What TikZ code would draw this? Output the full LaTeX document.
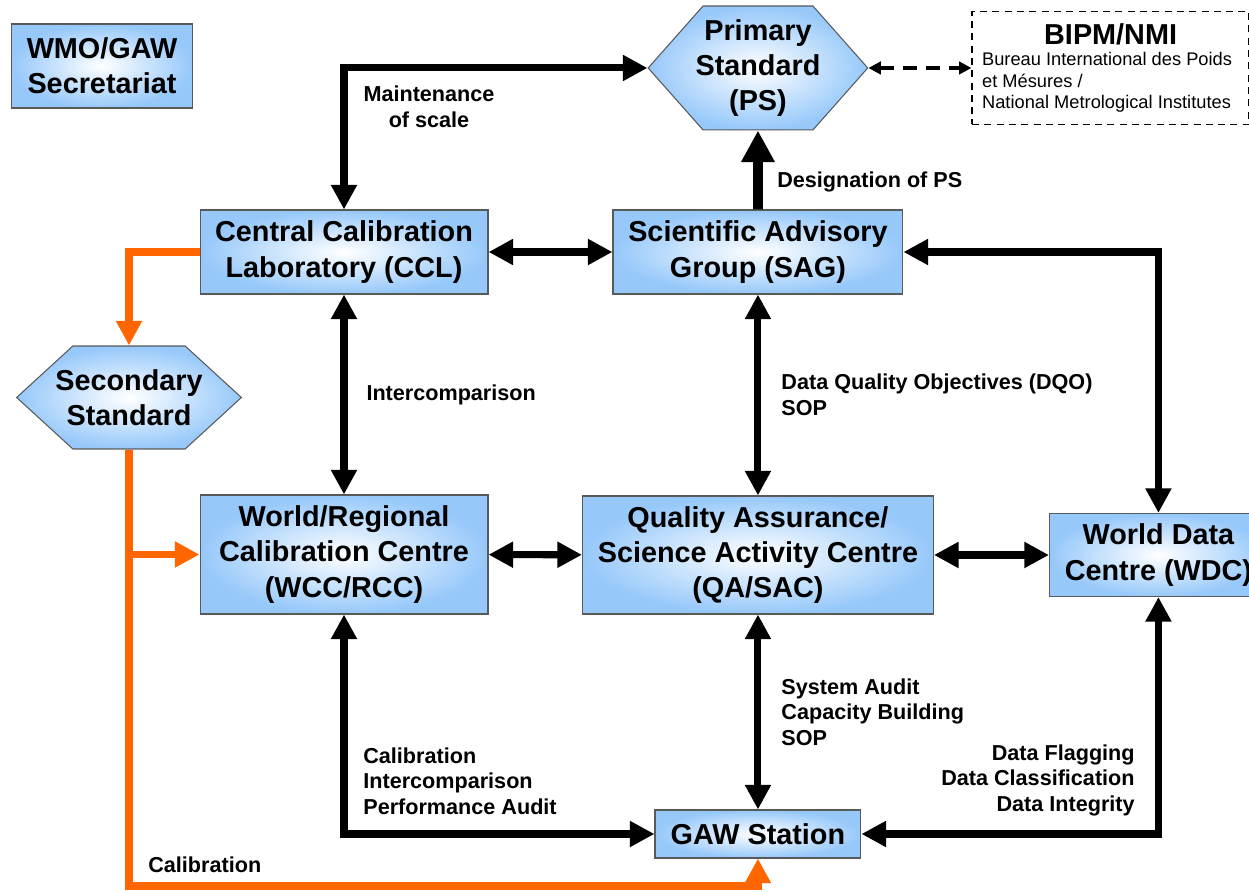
\documentclass[tikz,border=0pt]{standalone}
\usepackage{fontspec}
\setmainfont{Liberation Sans}
\usepackage{xcolor}
\usetikzlibrary{shapes,shapes.symbols,shapes.geometric,arrows.meta,positioning,calc}

\definecolor{boxblue}{RGB}{150,200,250}
\definecolor{calorange}{RGB}{255,102,0}

\begin{document}
\begin{tikzpicture}[
    x=0.02cm, y=-0.02cm,
    font=\bfseries\fontsize{16.4}{20}\selectfont,
    box/.style={rectangle, draw=black!65, line width=0.6pt, inner color=white, outer color=boxblue, align=center, inner sep=0pt},
    stdhex/.style={box, signal, signal to=west and east, minimum width=0pt},
    lbl/.style={font=\bfseries\fontsize{12.3}{14.5}\selectfont, inner sep=0pt},
    link/.style={line width=4pt, {Triangle[length=14pt,width=14pt]}-{Triangle[length=14pt,width=14pt]}},
    onelink/.style={line width=4pt, -{Triangle[length=14pt,width=14pt]}},
    callink/.style={calorange, line width=4.2pt, -{Triangle[length=14pt,width=14pt]}},
    dashlink/.style={line width=2.2pt, dash pattern=on 8pt off 5pt, {Triangle[length=7pt,width=7pt]}-{Triangle[length=7pt,width=7pt]}}
]
    \useasboundingbox (0,0) rectangle (1249,892);

    \node[box, minimum width=3.62cm, minimum height=1.68cm] (wmo) at (102,66) {WMO/GAW\\Secretariat};

    \node[box, minimum width=5.76cm, minimum height=1.68cm] (ccl) at (344,252) {Central Calibration\\Laboratory (CCL)};
    \node[box, minimum width=5.8cm, minimum height=1.68cm, right=2.48cm of ccl] (sag) {Scientific Advisory\\Group (SAG)};

    \node[stdhex, inner xsep=-0.15cm, minimum height=2.48cm, signal pointer angle=97, above=1.58cm of sag] (ps) {Primary\\Standard\\(PS)};
    \node[draw, line width=0.8pt, dash pattern=on 4pt off 3pt, minimum width=5.54cm, minimum height=2.26cm,
          font=\mdseries\fontsize{10.4}{12}\selectfont, align=left, inner xsep=0.2cm, inner ysep=0pt, right=2.06cm of ps] (bipm)
          {\makebox[5.14cm]{\bfseries\fontsize{16.4}{20}\selectfont BIPM/NMI}\\ Bureau International des Poids\\ et Mésures /\\ National Metrological Institutes};

    \node[stdhex, inner xsep=-0.35cm, minimum height=2.06cm, signal pointer angle=85] (sec) at (129,397.5) {Secondary\\Standard};

    \node[box, minimum width=5.76cm, minimum height=2.38cm, below=4cm of ccl] (wcc) {World/Regional\\Calibration Centre\\(WCC/RCC)};
    \node[box, minimum width=7.02cm, minimum height=2.36cm, below=4.02cm of sag] (qa) {Quality Assurance/\\Science Activity Centre\\(QA/SAC)};
    \node[box, minimum width=4.36cm, minimum height=1.66cm, right=2.3cm of qa] (wdc) {World Data\\Centre (WDC)};
    \node[box, minimum width=4.12cm, minimum height=0.96cm, below=3.9cm of qa] (gaw) {GAW Station};

    % Upper links
    \draw[link] (ccl.north) |- (ps.west);
    \node[lbl, align=center] (lmaint) at (429,107) {Maintenance\\of scale};
    \draw[line width=5.6pt, -{Triangle[length=18pt,width=18pt]}] (sag) -- (ps);
    \node[lbl, anchor=west] (ldesig) at (777,182) {Designation of PS};
    \draw[dashlink] (ps.east) -- (bipm.west);
    \draw[link] (ccl) -- (sag);

    % Vertical links
    \draw[link] (ccl) -- node[lbl, right=0.38cm] (linter) {Intercomparison} (wcc);
    \draw[link] (sag.south) -- node[lbl, right=0.4cm, align=left] (ldqo) {Data Quality Objectives (DQO)\\SOP} (sag.south |- qa.north);
    \draw[link] (sag.east) -| (wdc.north);

    % Middle row
    \draw[link] (wcc) -- (qa);
    \draw[link] (qa) -- (wdc);

    % To the station
    \draw[link] (qa.south) -- node[lbl, right=0.4cm, align=left] (laudit) {System Audit\\Capacity Building\\SOP} (gaw.north);
    \draw[link] (wcc.south) |- (gaw.west);
    \node[lbl, anchor=west, align=left] (lcalint) at (363,781) {Calibration\\Intercomparison\\Performance Audit};
    \draw[link] (wdc.south) |- (gaw.east);
    \node[lbl, anchor=east, align=right] (ldata) at (1135,780) {Data Flagging\\Data Classification\\Data Integrity};

    % Calibration chain
    \coordinate (calbase) at (129,886);
    \draw[callink] (ccl.west) -| (sec.north);
    \draw[callink] (sec.south) |- (calbase) -| (gaw.south);
    \draw[callink] (sec.south |- wcc.west) -- (wcc.west);
    \node[lbl, anchor=west] (lcalib) at (148,865) {Calibration};

\end{tikzpicture}
\end{document}
